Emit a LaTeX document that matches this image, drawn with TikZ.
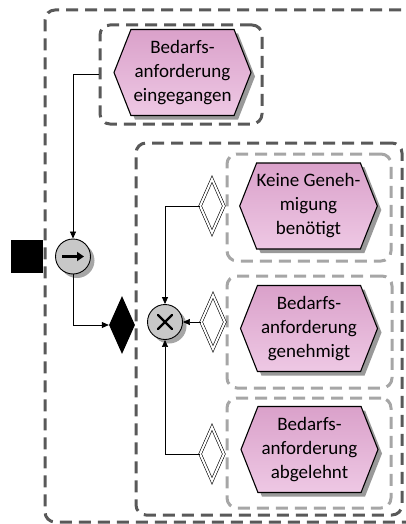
\documentclass[tikz,border=0pt]{standalone}
\usepackage{fontspec}
\setmainfont{Carlito}
\usetikzlibrary{shapes.geometric,shapes.symbols,arrows.meta,shadows}

\definecolor{framedark}{HTML}{595959}
\definecolor{framelight}{HTML}{A6A6A6}
\definecolor{evtop}{HTML}{DAA1CA}
\definecolor{evbot}{HTML}{EEC8E4}
\definecolor{opfill}{HTML}{C8C8C8}
\definecolor{shadowgray}{HTML}{999999}

\tikzset{
  frame/.style={draw=framedark, line width=3pt, dash pattern=on 12pt off 7pt,
    rounded corners=10pt, inner sep=0pt},
  subframe/.style={frame, draw=framelight},
  event/.style={signal, signal to=west and east, signal pointer angle=137,
    draw=black, line width=1.1pt, top color=evtop, bottom color=evbot,
    minimum width=137pt, minimum height=86pt, inner sep=0pt, align=center,
    font=\fontsize{19}{24}\selectfont,
    drop shadow={shadow xshift=4pt, shadow yshift=-4pt, fill=shadowgray, opacity=1}},
  operator/.style={circle, draw=black, line width=0.9pt, fill=opfill,
    minimum size=35pt, inner sep=0pt,
    drop shadow={shadow xshift=4pt, shadow yshift=-4pt, fill=framelight, opacity=1}},
  rulegate/.style={diamond, draw=black, line width=0.6pt, double=white,
    double distance=2pt, minimum width=24pt, minimum height=54pt, inner sep=0pt},
  flow/.style={draw=black, line width=0.7pt, -{Triangle[length=7pt,width=6pt]}},
}

\begin{document}
\begin{tikzpicture}[x=1pt, y=-1pt]
  \useasboundingbox (0,0) rectangle (406,524);
  \clip (0,0) rectangle (406,524);

  % process frames
  \node[frame, minimum width=385pt, minimum height=512pt] (outer) at (237.5,266) {};
  \node[frame, minimum width=162pt, minimum height=99pt] (g1) at (181,74.5) {};
  \node[frame, minimum width=266pt, minimum height=372pt] (g2) at (269,329) {};
  \node[subframe, minimum width=164pt, minimum height=107pt] (gA) at (309,207.5) {};
  \node[subframe, minimum width=165pt, minimum height=112pt] (gB) at (309.5,332) {};
  \node[subframe, minimum width=164pt, minimum height=110pt] (gC) at (309,453) {};

  % events
  \node[event] (e1) at (182.5,72.5) {Bedarfs-\\anforderung\\eingegangen};
  \node[event] (eA) at (308.5,206) {Keine Geneh-\\migung\\benötigt};
  \node[event] (eB) at (309,328.5) {Bedarfs-\\anforderung\\genehmigt};
  \node[event] (eC) at (309.5,449.5) {Bedarfs-\\anforderung\\abgelehnt};

  % rule gates
  \node[rulegate] (dA) at (212,206) {};
  \node[rulegate] (dB) at (213,322) {};
  \node[rulegate] (dC) at (212,454) {};

  % start marker, split and join operators
  \node[fill=black, minimum width=32pt, minimum height=33pt, inner sep=0pt] (sq) at (27,256.5) {};
  \node[diamond, fill=black, minimum width=26pt, minimum height=58pt, inner sep=0pt] (bd) at (122,325) {};
  \node[operator] (op) at (73,256.5) {};
  \node[operator] (xr) at (165,322) {};

  % operator symbols
  \draw[line width=2.4pt, -{Triangle[length=7pt,width=9pt]}]
    ([xshift=-11pt]op.center) -- ([xshift=11pt]op.center);
  \draw[line width=2.2pt, line cap=round]
    ([shift={(-7pt,-7pt)}]xr.center) -- ([shift={(7pt,7pt)}]xr.center)
    ([shift={(-7pt,7pt)}]xr.center) -- ([shift={(7pt,-7pt)}]xr.center);

  % control flow
  \draw[flow] (g1.west) -| (op.north);
  \draw[flow] (op.south) |- (bd.west);
  \draw[flow] (dA.west) -| (xr.north);
  \draw[flow] (dB.west) -- (xr.east);
  \draw[flow] (dC.west) -| (xr.south);
\end{tikzpicture}
\end{document}
